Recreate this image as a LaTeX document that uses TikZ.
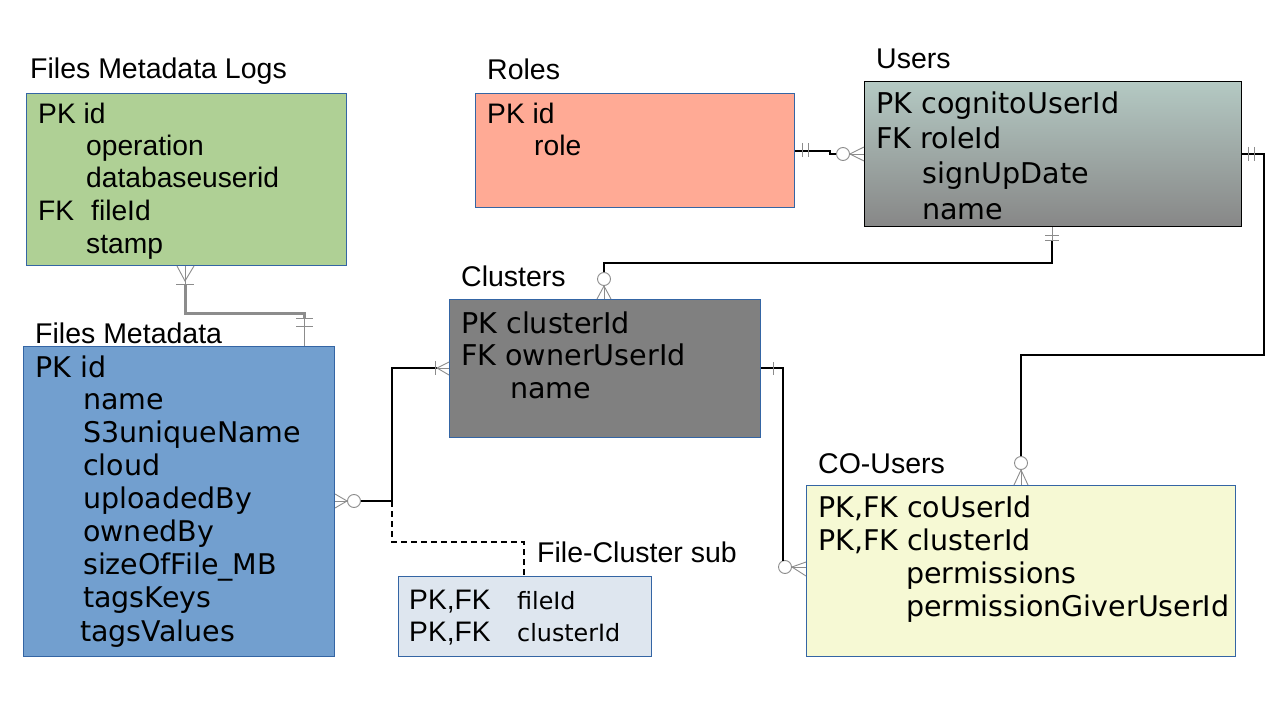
\documentclass[tikz,border=0pt]{standalone}
\usepackage{fontspec}
\setmainfont{Liberation Sans}
\newfontfamily\dv{DejaVu Sans}
\definecolor{boxblue}{HTML}{3465A4}
\definecolor{cgreen}{HTML}{AFD095}
\definecolor{csalmon}{HTML}{FFAA95}
\definecolor{cusertop}{HTML}{B4C9C3}
\definecolor{cuserbot}{HTML}{878787}
\definecolor{cclus}{HTML}{808080}
\definecolor{cmeta}{HTML}{729FCF}
\definecolor{cfc}{HTML}{DEE6EF}
\definecolor{cco}{HTML}{F6F9D4}
\definecolor{mkgray}{HTML}{8C8C8C}
\begin{document}
\begin{tikzpicture}[x=1pt,y=-1pt,
  tbl/.style={draw=boxblue, line width=1pt, anchor=north west, inner sep=0pt},
  txt/.style={inner sep=0pt, anchor=base west},
  ttl/.style={txt, font=\fontsize{28.5}{30}\selectfont},
  ar/.style={txt, font=\fontsize{28.2}{30}\selectfont},
  dvb/.style={txt, font=\dv\fontsize{28.5}{30}\selectfont},
  dvs/.style={txt, font=\dv\fontsize{28.6}{30}\selectfont},
  dvt/.style={txt, font=\dv\fontsize{23.8}{26}\selectfont},
  conn/.style={draw=black, line width=1.2pt},
  mk/.style={draw=mkgray, line width=0.9pt},
  mkc/.style={draw=mkgray, line width=0.9pt, fill=white},
  dsh/.style={draw=black, line width=1.2pt, dash pattern=on 6pt off 4pt}
]
\useasboundingbox[fill=white] (0,0) rectangle (1269,714);

% ---------- tables ----------
\node[tbl, fill=cgreen, minimum width=320pt, minimum height=172pt] (logs) at (26,93) {};
\node[tbl, fill=csalmon, minimum width=319pt, minimum height=114pt] (roles) at (475,93) {};
\node[tbl, draw=black, top color=cusertop, bottom color=cuserbot, minimum width=377pt, minimum height=145pt] (users) at (864,81) {};
\node[tbl, fill=cclus, minimum width=311pt, minimum height=138pt] (clus) at (449,299) {};
\node[tbl, fill=cmeta, minimum width=311pt, minimum height=310pt] (meta) at (23,346) {};
\node[tbl, fill=cfc, minimum width=253pt, minimum height=80pt] (fc) at (398,576) {};
\node[tbl, fill=cco, minimum width=429pt, minimum height=171pt] (co) at (806,485) {};

% ---------- titles ----------
\node[ttl] (tlogs) at (30,79) {Files Metadata Logs};
\node[ttl] (troles) at (487,80) {Roles};
\node[ttl] (tusers) at (876,69) {Users};
\node[ttl] (tclus) at (461,286) {Clusters};
\node[ttl] (tmeta) at (35,343) {Files Metadata};
\node[ttl] (tfc) at (537,562) {File-Cluster sub};
\node[ttl] (tco) at (818,473) {CO-Users};

% ---------- Files Metadata Logs ----------
\node[ar] (lg1) at (38,124) {PK id};
\node[ar] (lg2) at (86,156) {operation};
\node[ar] (lg3) at (86,188) {databaseuserid};
\node[ar] (lg4) at (38,221) {FK};
\node[ar] (lg4b) at (91,221) {fileId};
\node[ar] (lg5) at (86,253) {stamp};

% ---------- Roles ----------
\node[ar] (ro1) at (487,124) {PK id};
\node[ar] (ro2) at (534,156) {role};

% ---------- Users ----------
\node[dvs] (us1) at (876,114) {PK cognitoUserId};
\node[dvs] (us2) at (876,149) {FK roleId};
\node[dvs] (us3) at (922,184) {signUpDate};
\node[dvs] (us4) at (922,219) {name};

% ---------- Clusters ----------
\node[dvs] (cl1) at (461,333) {PK clusterId};
\node[dvs] (cl2) at (461,365) {FK ownerUserId};
\node[dvs] (cl3) at (510,398) {name};

% ---------- Files Metadata ----------
\node[dvb] (me1) at (35,377) {PK id};
\node[dvb] (me2) at (83,409) {name};
\node[dvb] (me3) at (83,442) {S3uniqueName};
\node[dvb] (me4) at (83,475) {cloud};
\node[dvb] (me5) at (83,508) {uploadedBy};
\node[dvb] (me6) at (83,541) {ownedBy};
\node[dvb] (me7) at (83,574) {sizeOfFile\_MB};
\node[dvb] (me8) at (83,607) {tagsKeys};
\node[dvb] (me9) at (80,641) {tagsValues};

% ---------- File-Cluster sub ----------
\node[ar] (fc1) at (409,609) {PK,FK};
\node[dvt] (fc1b) at (517,609) {fileId};
\node[ar] (fc2) at (409,641) {PK,FK};
\node[dvt] (fc2b) at (517,641) {clusterId};

% ---------- CO-Users ----------
\node[dvb] (co1) at (818,517) {PK,FK coUserId};
\node[dvb] (co2) at (818,550) {PK,FK clusterId};
\node[dvb] (co3) at (906,583) {permissions};
\node[dvb] (co4) at (906,616) {permissionGiverUserId};

% ---------- connectors ----------
% Logs -> Files Metadata (gray, thick)
\coordinate (c1a) at (185,284);
\coordinate (c1b) at (304,318);
\draw[draw=mkgray, line width=3pt] (c1a) |- (304,313) -- (c1b);
\draw[mk] (185,265 |- logs.south) -- (c1a);
\draw[mk] (177,265 |- logs.south) -- (185,281) -- (194,265 |- logs.south);
\draw[mk] (176,284) -- (194,284);
\draw[mk] (c1b) -- (304,346 |- meta.north);
\draw[mk] (296,318) -- (313,318);
\draw[mk] (296,326) -- (313,326);

% Roles -> Users
\node[mkc, circle, minimum size=13pt, inner sep=0pt] (o2) at (843,154) {};
\draw[conn] (794,151 -| roles.east) -- (830,151) -- (830,154) -- (o2.west);
\draw[mk] (802,143) -- (802,157);
\draw[mk] (808,143) -- (808,157);
\draw[mk] (o2.east) -- (864,147 -| users.west);
\draw[mk] (o2.east) -- (864,154 -| users.west);
\draw[mk] (o2.east) -- (864,161 -| users.west);

% Users -> Clusters
\node[mkc, circle, minimum size=13pt, inner sep=0pt] (o3) at (604,279) {};
\draw[mk] (1052,226 |- users.south) -- (1052,240);
\draw[conn] (1052,240) |- (604,263) -- (o3.north);
\draw[mk] (1045,235) -- (1059,235);
\draw[mk] (1045,240) -- (1059,240);
\draw[mk] (o3.south) -- (597,299 |- clus.north);
\draw[mk] (o3.south) -- (604,299 |- clus.north);
\draw[mk] (o3.south) -- (611,299 |- clus.north);

% Clusters -> Files Metadata
\node[mkc, circle, minimum size=13pt, inner sep=0pt] (o4) at (354,501) {};
\coordinate (j4) at (392,501);
\draw[conn] (437,368) -- (392,368) -- (j4) -- (o4.east);
\draw[mk] (449,362 -| clus.west) -- (437,368) -- (449,375 -| clus.west);
\draw[mk] (449,368 -| clus.west) -- (437,368);
\draw[mk] (435,361) -- (435,375);
\draw[mk] (o4.west) -- (334,494 -| meta.east);
\draw[mk] (o4.west) -- (334,501 -| meta.east);
\draw[mk] (o4.west) -- (334,508 -| meta.east);

% dashed to File-Cluster sub
\draw[dsh] (j4) -- (392,542) -- (524,542) -- (524,576 |- fc.north);

% Clusters -> CO-Users
\node[mkc, circle, minimum size=13pt, inner sep=0pt] (o6) at (785,567) {};
\draw[conn] (760,368 -| clus.east) -- (783,368) -- (783,560.5) ;
\draw[mk] (773,362) -- (773,375);
\draw[mk] (o6.east) -- (806,562 -| co.west);
\draw[mk] (o6.east) -- (806,567 -| co.west);
\draw[mk] (o6.east) -- (806,576 -| co.west);

% Users -> CO-Users
\node[mkc, circle, minimum size=13pt, inner sep=0pt] (o7) at (1021,463) {};
\draw[conn] (1241,154 -| users.east) -- (1264,154) -- (1264,355) -- (1021,355) -- (o7.north);
\draw[mk] (1248,147) -- (1248,161);
\draw[mk] (1254,147) -- (1254,161);
\draw[mk] (o7.south) -- (1014,485 |- co.north);
\draw[mk] (o7.south) -- (1021,485 |- co.north);
\draw[mk] (o7.south) -- (1028,485 |- co.north);
\end{tikzpicture}
\end{document}
